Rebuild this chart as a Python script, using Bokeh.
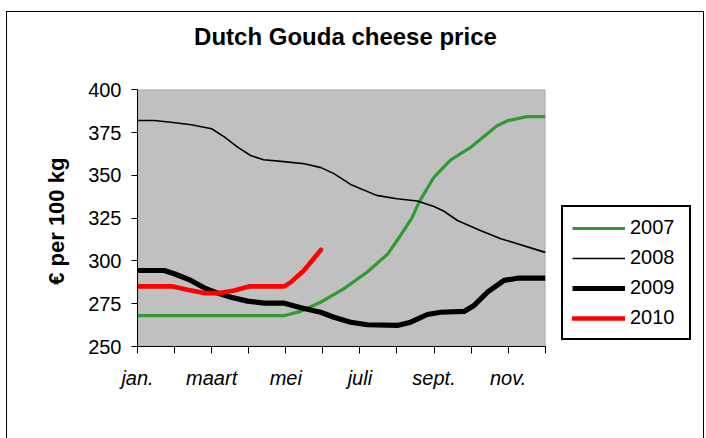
from bokeh.plotting import figure
from bokeh.models import FixedTicker, Legend, LegendItem, Range1d, BoxAnnotation, Label
from bokeh.embed import file_html
from bokeh.resources import INLINE

# month index: 0 = jan. ... 11 = dec.
month_ticks = [0, 1, 2, 3, 4, 5, 6, 7, 8, 9, 10, 11]
month_labels = ["jan.", "", "maart", "", "mei", "", "juli", "", "sept.", "", "nov.", ""]
y_ticks = [250, 275, 300, 325, 350, 375, 400]

x_2007 = [0, 3.95, 4.4, 4.95, 5.55, 6.2, 6.75, 7.1, 7.4, 7.6, 8.0, 8.45, 9.0, 9.7, 10.0, 10.5, 11]
y_2007 = [268, 268, 270.5, 276, 283.5, 293.5, 304, 315, 325, 334.5, 349, 359, 366.5, 379, 382, 384.3, 384.3]

x_2008 = [0, 0.45, 0.9, 1.45, 2.0, 2.35, 2.7, 3.05, 3.4, 3.95, 4.5, 4.95, 5.3, 5.75, 6.45, 7.0, 7.55, 8.0, 8.27, 8.63, 9.25, 9.8, 11]
y_2008 = [382, 382, 381, 379.6, 377.2, 372.3, 366.5, 361.6, 359.1, 358, 356.8, 354.5, 351, 344.7, 338.3, 336.3, 335, 331.8, 329, 323.6, 317.8, 313, 305]

x_2009 = [0, 0.72, 0.99, 1.44, 1.8, 2.16, 2.52, 2.97, 3.42, 3.96, 4.41, 4.94, 5.3, 5.75, 6.2, 7.01, 7.37, 7.82, 8.18, 8.81, 9.08, 9.44, 9.89, 10.25, 11]
y_2009 = [294.4, 294.4, 292.5, 288.6, 284.3, 281.2, 278.8, 276.5, 275.3, 275.3, 272.6, 270, 267.1, 264.2, 262.7, 262.3, 264.2, 268.7, 270, 270.5, 274, 281.7, 288.6, 289.9, 289.9]

x_2010 = [0, 0.95, 1.35, 1.8, 2.2, 2.61, 3.01, 3.96, 4.14, 4.49, 4.95]
y_2010 = [285.1, 285.1, 283.1, 281.2, 281.2, 282.7, 285.1, 285.1, 287.6, 294.4, 306.5]

FONT = "Liberation Sans"

# frame covers most of the chart area so that the title and legend sit inside it
p = figure(width=696, height=426, output_backend="svg", toolbar_location=None,
           x_range=Range1d(0, 15), y_range=Range1d(250, 442.8), title=None)
p.margin = (12, 0, 0, 7)
p.styles = {"outline": "1px solid black"}
p.min_border_left = 130
p.min_border_right = 10
p.min_border_top = 4
p.min_border_bottom = 92

p.background_fill_color = "white"
p.border_fill_color = "white"
p.outline_line_color = None
p.xgrid.grid_line_color = None
p.ygrid.grid_line_color = None

plot_area = BoxAnnotation(left=0, right=11, bottom=250, top=400,
                          fill_color="#C0C0C0", fill_alpha=1,
                          line_color="#808080", line_width=1.5, level="underlay")
p.add_layout(plot_area)

p.xaxis.bounds = (0, 11)
p.xaxis.ticker = FixedTicker(ticks=month_ticks)
p.xaxis.major_label_overrides = {t: l for t, l in zip(month_ticks, month_labels)}
p.xaxis.minor_tick_line_color = None
p.xaxis.major_tick_in = 0
p.xaxis.major_tick_out = 7
p.xaxis.major_label_standoff = 13
p.xaxis.major_label_text_font = FONT
p.xaxis.major_label_text_font_size = "20px"
p.xaxis.major_label_text_font_style = "italic"
p.xaxis.major_label_text_color = "black"
p.xaxis.axis_line_color = "black"
p.xaxis.major_tick_line_color = "black"

p.yaxis.bounds = (250, 400)
p.yaxis.ticker = FixedTicker(ticks=y_ticks)
p.yaxis.minor_tick_line_color = None
p.yaxis.major_tick_in = 0
p.yaxis.major_tick_out = 6
p.yaxis.major_label_standoff = 10
p.yaxis.major_label_text_font = FONT
p.yaxis.major_label_text_font_size = "20px"
p.yaxis.major_label_text_color = "black"
p.yaxis.axis_line_color = "black"
p.yaxis.major_tick_line_color = "black"
# trailing no-break spaces keep the visible label centred on the 250-400 span
p.yaxis.axis_label = "€ per 100 kg" + "\u00a0" * 13
p.yaxis.axis_label_text_font = FONT
p.yaxis.axis_label_text_font_size = "22px"
p.yaxis.axis_label_text_font_style = "bold"
p.yaxis.axis_label_text_color = "black"
p.yaxis.axis_label_standoff = 16

title = Label(x=5.61, y=431.3, text="Dutch Gouda cheese price",
              text_align="center", text_baseline="alphabetic",
              text_font=FONT, text_font_size="24px", text_font_style="bold",
              text_color="black")
p.add_layout(title)

r07 = p.line(x_2007, y_2007, line_color="#339933", line_width=3.2, line_join="round")
r08 = p.line(x_2008, y_2008, line_color="black", line_width=1.6, line_join="round")
r09 = p.line(x_2009, y_2009, line_color="black", line_width=5.2, line_join="round")
r10 = p.line(x_2010, y_2010, line_color="#FF0000", line_width=4.6, line_join="round", line_cap="round")

legend = Legend(items=[LegendItem(label="2007", renderers=[r07]),
                       LegendItem(label="2008", renderers=[r08]),
                       LegendItem(label="2009", renderers=[r09]),
                       LegendItem(label="2010", renderers=[r10])],
                location=(424, 6))
legend.border_line_color = "black"
legend.border_line_width = 2
legend.border_line_alpha = 1
legend.background_fill_color = "white"
legend.background_fill_alpha = 1
legend.label_text_font = FONT
legend.label_text_font_size = "20px"
legend.label_text_color = "black"
legend.glyph_width = 53
legend.glyph_height = 22
legend.label_height = 22
legend.label_width = 50
legend.label_standoff = 5
legend.spacing = 7
legend.padding = 9
legend.margin = 0
p.add_layout(legend, "center")

open("out.html", "w").write(file_html(p, INLINE))
